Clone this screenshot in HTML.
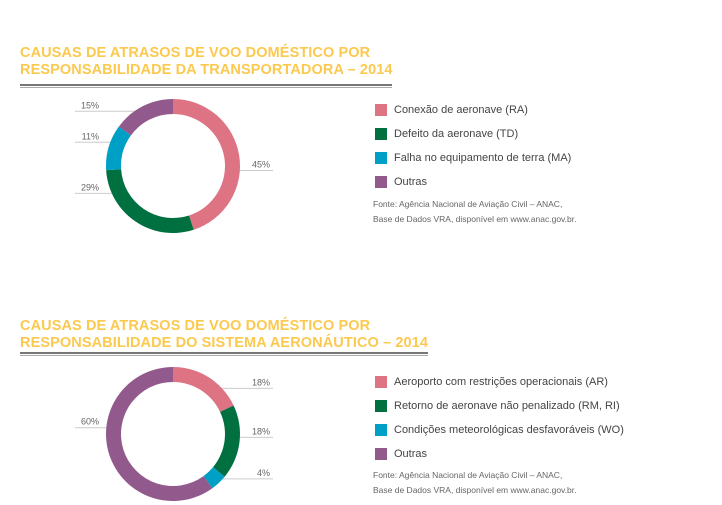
<!DOCTYPE html>
<html><head><meta charset="utf-8"><style>
body{margin:0;background:#fff;width:722px;height:505px;overflow:hidden;font-family:"Liberation Sans",sans-serif}
.t{position:absolute;left:20px;color:#fcc94f;font-weight:bold;font-size:14.5px;line-height:17px;letter-spacing:0.1px}
.rule{position:absolute;left:20px;height:1px;border-top:2px solid #777;border-bottom:1px solid #aaa;height:1px}
.leg{position:absolute;left:375px;font-size:11px;color:#444}
.leg div{position:relative;height:24px;padding-left:19px;line-height:13px}
.leg span{position:absolute;left:0;top:0;width:12px;height:12px}
.src{position:absolute;left:373px;font-size:8.5px;color:#666;line-height:15px}
svg{position:absolute;left:0;top:0}
</style></head><body>
<div class="t" style="top:45px">CAUSAS DE ATRASOS DE VOO DOMÉSTICO POR<br>RESPONSABILIDADE DA TRANSPORTADORA – 2014</div>
<div class="rule" style="top:84px;width:372px"></div>
<div class="t" style="top:318px">CAUSAS DE ATRASOS DE VOO DOMÉSTICO POR<br>RESPONSABILIDADE DO SISTEMA AERONÁUTICO – 2014</div>
<div class="rule" style="top:352px;width:408px"></div>
<div class="leg" style="top:104px">
<div><span style="background:#dd7383"></span>Conexão de aeronave (RA)</div>
<div><span style="background:#007040"></span>Defeito da aeronave (TD)</div>
<div><span style="background:#00a0c6"></span>Falha no equipamento de terra (MA)</div>
<div><span style="background:#925a8c"></span>Outras</div></div>
<div class="src" style="top:197px">Fonte: Agência Nacional de Aviação Civil – ANAC,<br>Base de Dados VRA, disponível em www.anac.gov.br.</div>
<div class="leg" style="top:376px">
<div><span style="background:#dd7383"></span>Aeroporto com restrições operacionais (AR)</div>
<div><span style="background:#007040"></span>Retorno de aeronave não penalizado (RM, RI)</div>
<div><span style="background:#00a0c6"></span>Condições meteorológicas desfavoráveis (WO)</div>
<div><span style="background:#925a8c"></span>Outras</div></div>
<div class="src" style="top:468px">Fonte: Agência Nacional de Aviação Civil – ANAC,<br>Base de Dados VRA, disponível em www.anac.gov.br.</div>
<svg id="s" width="722" height="505"><g id="lines"></g><g id="slices"></g></svg>
<script>
const colors=["#dd7383","#007040","#00a0c6","#925a8c"];
const values1=[45,29,11,15];
const labels1=["45%","29%","11%","15%"];
const values2=[18,18,4,60];
const labels2=["18%","18%","4%","60%"];
const NS="http://www.w3.org/2000/svg";
const gL=document.getElementById('lines'),gS=document.getElementById('slices');
function mk(g,t,a){const e=document.createElementNS(NS,t);for(const k in a)e.setAttribute(k,a[k]);g.appendChild(e);return e;}
function donut(cx,cy,vals,labs,id,leaderOffsets){
  const tot=vals.reduce((a,b)=>a+b,0);const R=67,r=52;let a0=0;
  const hole=mk(gS,'circle',{cx:cx,cy:cy,r:r,fill:'#fff'});
  
  
  vals.forEach((v,i)=>{
    const a1=a0+v/tot*2*Math.PI;
    const P=(rad,a)=>[cx+rad*Math.sin(a),cy-rad*Math.cos(a)];
    const [x1,y1]=P(R,a0),[x2,y2]=P(R,a1),[x3,y3]=P(r,a1),[x4,y4]=P(r,a0);
    const lg=(a1-a0)>Math.PI?1:0;
    const p=mk(gS,'path',{d:`M${x1},${y1}A${R},${R} 0 ${lg} 1 ${x2},${y2}L${x3},${y3}A${r},${r} 0 ${lg} 0 ${x4},${y4}Z`,fill:colors[i]});
    
    
    const am=(a0+a1)/2;const right=Math.sin(am)>=0;
    const ly=cy-R*Math.cos(am)+leaderOffsets[i];
    const lx=right?cx+100:cx-98;
    const ln=mk(gL,'line',{x1:cx,y1:ly,x2:lx,y2:ly,stroke:'#ccc','stroke-width':1});
    
    
    const t=mk(gL,'text',{x:right?lx-3:lx+24,y:ly-3,'font-size':'9',fill:'#666','text-anchor':'end','font-family':'Liberation Sans, sans-serif'});
    t.textContent=labs[i];
    
    
    a0=a1;
  });
}
donut(173,166,values1,labels1,'donut1',[15,-28,-5,5]);
donut(173,434,values2,labels2,'donut2',[11,-5,-4,-27]);
</script>
</body></html>
